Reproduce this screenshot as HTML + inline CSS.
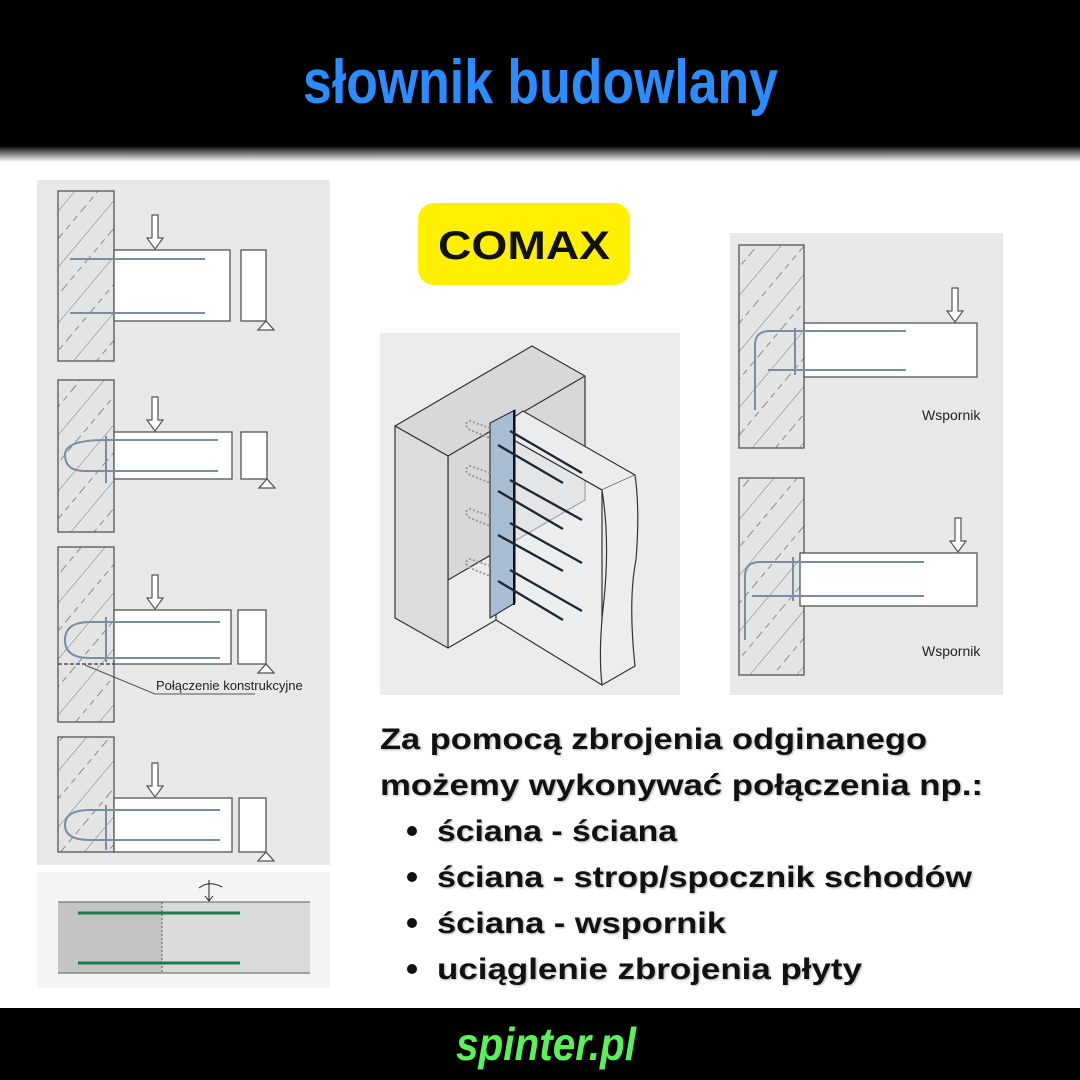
<!DOCTYPE html>
<html><head><meta charset="utf-8"><style>
html,body{margin:0;padding:0;background:#fff}
svg{display:block}
</style></head><body>
<svg width="1080" height="1080" viewBox="0 0 1080 1080" xmlns="http://www.w3.org/2000/svg" font-family="Liberation Sans, DejaVu Sans, sans-serif">
<defs>
<linearGradient id="hg" x1="0" y1="0" x2="0" y2="1">
<stop offset="0" stop-color="#000"/><stop offset="0.9" stop-color="#000"/><stop offset="1" stop-color="#fff"/>
</linearGradient>
<pattern id="hatch" width="36" height="36" patternUnits="userSpaceOnUse" patternTransform="rotate(-50)">
<rect width="36" height="36" fill="#e4e4e4"/>
<line x1="0" y1="0" x2="36" y2="0" stroke="#777" stroke-width="1"/>
<line x1="0" y1="18" x2="36" y2="18" stroke="#888" stroke-width="1" stroke-dasharray="6 5"/>
</pattern>
<path id="arr" d="M-3 -34H3V-11H8L0 0L-8 -11H-3Z" fill="#fff" stroke="#555" stroke-width="1.2"/>
</defs>
<rect width="1080" height="1080" fill="#fff"/>
<rect x="0" y="0" width="1080" height="162" fill="url(#hg)"/>
<text x="303" y="103" font-size="62" font-weight="bold" fill="#2a8cff" textLength="475" lengthAdjust="spacingAndGlyphs">słownik budowlany</text>

<!-- left panel -->
<rect x="37" y="180" width="293" height="685" fill="#e8e8e8"/>
<g stroke="#555" stroke-width="1.3" fill="none">
<rect x="58" y="191" width="56" height="170" fill="url(#hatch)"/>
<rect x="114" y="250" width="116" height="71" fill="#fff"/>
<rect x="241" y="250" width="25" height="71" fill="#fff"/>
<path d="M266 321l-8 9h16z" fill="#fff"/>
<rect x="58" y="380" width="56" height="152" fill="url(#hatch)"/>
<rect x="114" y="432" width="118" height="47" fill="#fff"/>
<rect x="241" y="432" width="26" height="47" fill="#fff"/>
<path d="M267 479l-8 9h16z" fill="#fff"/>
<rect x="58" y="547" width="56" height="175" fill="url(#hatch)"/>
<rect x="114" y="610" width="117" height="54" fill="#fff"/>
<rect x="238" y="610" width="28" height="54" fill="#fff"/>
<path d="M266 664l-8 9h16z" fill="#fff"/>
<path d="M58 664H114" stroke-dasharray="4 2" stroke="#333"/>
<path d="M85 665L155 694H255" stroke-width="1"/>
<rect x="58" y="737" width="56" height="115" fill="url(#hatch)"/>
<rect x="114" y="798" width="118" height="54" fill="#fff"/>
<rect x="239" y="798" width="27" height="54" fill="#fff"/>
<path d="M266 852l-8 9h16z" fill="#fff"/>
</g>
<use href="#arr" x="155" y="249"/>
<use href="#arr" x="155" y="431"/>
<use href="#arr" x="155" y="609"/>
<use href="#arr" x="155" y="797"/>
<g stroke="#7a8ea3" stroke-width="2" fill="none">
<path d="M70 259H205M70 313H205"/>
<path d="M218 440H105Q65 440 65 455Q65 471 85 471H218M106 436V483"/>
<path d="M220 622H90Q65 622 65 640Q65 658 90 658H220M106 617V662"/>
<path d="M220 810H90Q65 810 65 825Q65 840 90 840H220M106 805V850"/>
</g>
<text x="156" y="690" font-size="13" fill="#222">Połączenie konstrukcyjne</text>

<!-- bottom-left panel -->
<rect x="37" y="872" width="293" height="116" fill="#f4f4f4"/>
<rect x="58" y="902" width="104" height="71" fill="#c4c4c4"/>
<rect x="162" y="902" width="148" height="71" fill="#dadada"/>
<path d="M58 902H310M58 973H310" stroke="#777" stroke-width="1.3"/>
<path d="M162 902V973" stroke="#555" stroke-dasharray="2 2"/>
<path d="M78 913H240M78 963H240" stroke="#1e7a4e" stroke-width="3"/>
<path d="M209 880V900M205 896l4 5 4-5M199 888Q209 880 222 887" stroke="#222" fill="none"/>

<!-- COMAX -->
<rect x="418" y="203" width="212" height="82" rx="16" fill="#ffef00"/>
<text x="524" y="259" font-size="40" font-weight="bold" fill="#111" text-anchor="middle" textLength="172" lengthAdjust="spacingAndGlyphs">COMAX</text>

<!-- 3D panel -->
<rect x="380" y="333" width="300" height="362" fill="#ebebeb"/>
<g stroke="#333" stroke-width="1.2" stroke-linejoin="round">
<path d="M395 426L532 346L585 376L585 500L448 580L448 456Z" fill="#d8d8d8"/>
<path d="M395 426L448 456L448 648L395 618Z" fill="#dcdcdc"/>
<path d="M448 456L585 376" fill="none"/>
<path d="M523 411L635 475L602 490L496 430Z" fill="#ececec"/>
<path d="M496 430L602 490L602 685L496 620Z" fill="#efefef" fill-opacity="0.6"/>
<path d="M602 490Q610 540 604 600Q598 650 602 685L635 666Q628 600 636 560Q640 510 635 475" fill="#ededed"/>
<path d="M448 648L496 620" fill="none"/>
</g>
<path d="M490 423L515 410L515 603L490 618Z" fill="#a8bcd4" stroke="#333" stroke-width="1.2"/>
<path d="M514 410V605" stroke="#111" stroke-width="2"/>
<g stroke="#1d2a35" stroke-width="2.4">
<path d="M510 431L582 473M498 445L563 483M510 480L582 520M498 491L563 529M510 523L582 563M498 535L563 571M510 570L582 611M498 581L563 620"/>
</g>
<g stroke="#999" stroke-width="2" stroke-dasharray="2 2" fill="none">
<path d="M490 428L470 421Q462 424 470 430L490 438"/>
<path d="M490 473L470 466Q462 469 470 475L490 483"/>
<path d="M490 516L470 509Q462 512 470 518L490 526"/>
<path d="M490 566L470 559Q462 562 470 568L490 576"/>
</g>

<!-- right panel -->
<rect x="730" y="233" width="273" height="462" fill="#e8e8e8"/>
<g stroke="#555" stroke-width="1.3" fill="none">
<rect x="739" y="245" width="65" height="203" fill="url(#hatch)"/>
<rect x="804" y="323" width="173" height="54" fill="#fff"/>
<rect x="739" y="478" width="65" height="197" fill="url(#hatch)"/>
<rect x="800" y="553" width="177" height="53" fill="#fff"/>
</g>
<use href="#arr" x="955" y="322"/>
<use href="#arr" x="958" y="552"/>
<g stroke="#7a8ea3" stroke-width="2" fill="none">
<path d="M906 331H770Q755 331 755 345V410M768 370H906M795 328V375"/>
<path d="M924 562H760Q745 562 745 576V640M752 596H924M793 557V601"/>
</g>
<text x="922" y="420" font-size="14" fill="#222">Wspornik</text>
<text x="922" y="656" font-size="14" fill="#222">Wspornik</text>

<!-- body text -->
<g font-size="30" font-weight="bold" fill="#111" style="text-shadow:1px 1px 2px rgba(0,0,0,.3)">
<text x="380" y="749" textLength="547" lengthAdjust="spacingAndGlyphs">Za pomocą zbrojenia odginanego</text>
<text x="380" y="795" textLength="603" lengthAdjust="spacingAndGlyphs">możemy wykonywać połączenia np.:</text>
<text x="437" y="841" textLength="240" lengthAdjust="spacingAndGlyphs">ściana - ściana</text>
<text x="437" y="887" textLength="535" lengthAdjust="spacingAndGlyphs">ściana - strop/spocznik schodów</text>
<text x="437" y="933" textLength="289" lengthAdjust="spacingAndGlyphs">ściana - wspornik</text>
<text x="437" y="979" textLength="425" lengthAdjust="spacingAndGlyphs">uciąglenie zbrojenia płyty</text>
</g>
<g fill="#111"><circle cx="412" cy="831" r="5"/><circle cx="412" cy="877" r="5"/><circle cx="412" cy="923" r="5"/><circle cx="412" cy="969" r="5"/></g>

<!-- footer -->
<rect x="0" y="1008" width="1080" height="72" fill="#000"/>
<text x="456" y="1060" font-size="46" font-weight="bold" font-style="italic" fill="#5af05a" textLength="180" lengthAdjust="spacingAndGlyphs">spinter.pl</text>
</svg>
</body></html>
